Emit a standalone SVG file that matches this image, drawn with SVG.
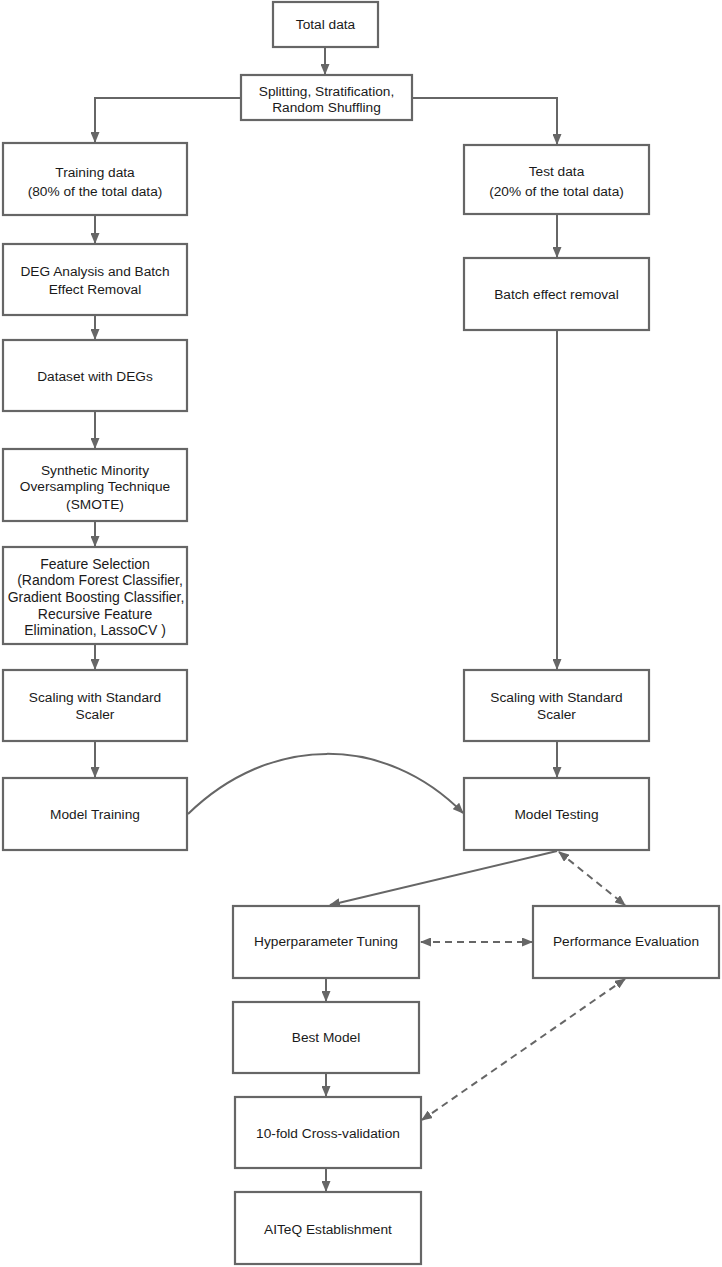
<svg xmlns="http://www.w3.org/2000/svg" width="722" height="1267" viewBox="0 0 722 1267">
<defs>
<marker id="ah" markerUnits="userSpaceOnUse" markerWidth="11" markerHeight="9" refX="10" refY="4.5" orient="auto-start-reverse">
<path d="M0,0 L11,4.5 L0,9 z" fill="#666"/>
</marker>
<style>
.box{fill:#fff;stroke:#666;stroke-width:2.2}
.t{font-family:"Liberation Sans",Arial,sans-serif;font-size:13.7px;fill:#1a1a1a;text-anchor:middle}
.f{font-size:14px}
.c{fill:none;stroke:#666;stroke-width:2}
.d{fill:none;stroke:#666;stroke-width:2;stroke-dasharray:7,5}
</style>
</defs>
<rect width="722" height="1267" fill="#fff"/>
<g id="connectors">
<path class="c" d="M325,47 L325,74" marker-end="url(#ah)"/>
<path class="c" d="M241,98 L95,98 L95,142" marker-end="url(#ah)"/>
<path class="c" d="M412,98 L557,98 L557,144" marker-end="url(#ah)"/>
<path class="c" d="M95,215 L95,243" marker-end="url(#ah)"/>
<path class="c" d="M95,315 L95,339" marker-end="url(#ah)"/>
<path class="c" d="M95,411 L95,448" marker-end="url(#ah)"/>
<path class="c" d="M95,521 L95,546" marker-end="url(#ah)"/>
<path class="c" d="M95,644 L95,669" marker-end="url(#ah)"/>
<path class="c" d="M95,741 L95,777" marker-end="url(#ah)"/>
<path class="c" d="M557,214 L557,257" marker-end="url(#ah)"/>
<path class="c" d="M557,330 L557,669" marker-end="url(#ah)"/>
<path class="c" d="M557,741 L557,777" marker-end="url(#ah)"/>
<path class="c" d="M188,814 C270,734 385,734 463,813" marker-end="url(#ah)"/>
<path class="c" d="M557,851 L330,905" marker-end="url(#ah)" stroke-width="2.4"/>
<path class="d" d="M559,852 L625,905" marker-start="url(#ah)" marker-end="url(#ah)"/>
<path class="d" d="M421,942 L532,942" marker-start="url(#ah)" marker-end="url(#ah)"/>
<path class="d" d="M625,979 L422,1120" marker-start="url(#ah)" marker-end="url(#ah)"/>
<path class="c" d="M326,978 L326,1001" marker-end="url(#ah)"/>
<path class="c" d="M326,1073 L326,1096" marker-end="url(#ah)"/>
<path class="c" d="M326,1168 L326,1191" marker-end="url(#ah)"/>
</g>
<g id="total"><rect class="box" x="273" y="2" width="105" height="45"/><text class="t" x="325.5" y="29">Total data</text></g>
<g id="split"><rect class="box" x="241" y="75" width="171" height="45"/><text class="t" x="326.5" y="95.5">Splitting, Stratification,</text><text class="t" x="326.5" y="112">Random Shuffling</text></g>
<g id="train"><rect class="box" x="3" y="143" width="184" height="72"/><text class="t" x="95" y="176.5">Training data</text><text class="t" x="95" y="195.5">(80% of the total data)</text></g>
<g id="deg"><rect class="box" x="3" y="244" width="184" height="71"/><text class="t" x="95" y="276">DEG Analysis and Batch</text><text class="t" x="95" y="293.5">Effect Removal</text></g>
<g id="dataset"><rect class="box" x="3" y="340" width="184" height="71"/><text class="t" x="95" y="381">Dataset with DEGs</text></g>
<g id="smote"><rect class="box" x="3" y="449" width="184" height="72"/><text class="t" x="95" y="474.5">Synthetic Minority</text><text class="t" x="95" y="491">Oversampling Technique</text><text class="t" x="95" y="508.5">(SMOTE)</text></g>
<g id="feature"><rect class="box" x="3" y="547" width="184" height="97"/><text class="t f" x="95" y="568.5">Feature Selection</text><text class="t f" x="100" y="585">(Random Forest Classifier,</text><text class="t f" x="96" y="601.5">Gradient Boosting Classifier,</text><text class="t f" x="95" y="618.5">Recursive Feature</text><text class="t f" x="95" y="635">Elimination, LassoCV )</text></g>
<g id="scaleL"><rect class="box" x="3" y="670" width="184" height="71"/><text class="t" x="95" y="701.5">Scaling with Standard</text><text class="t" x="95" y="718.5">Scaler</text></g>
<g id="modeltrain"><rect class="box" x="3" y="778" width="184" height="72"/><text class="t" x="95" y="818.5">Model Training</text></g>
<g id="test"><rect class="box" x="464" y="145" width="185" height="69"/><text class="t" x="556.5" y="176">Test data</text><text class="t" x="556.5" y="196">(20% of the total data)</text></g>
<g id="batch"><rect class="box" x="464" y="258" width="185" height="72"/><text class="t" x="556.5" y="298.5">Batch effect removal</text></g>
<g id="scaleR"><rect class="box" x="464" y="670" width="185" height="71"/><text class="t" x="556.5" y="701.5">Scaling with Standard</text><text class="t" x="556.5" y="718.5">Scaler</text></g>
<g id="modeltest"><rect class="box" x="464" y="778" width="185" height="72"/><text class="t" x="556.5" y="818.5">Model Testing</text></g>
<g id="hyper"><rect class="box" x="233" y="906" width="186" height="72"/><text class="t" x="326" y="946">Hyperparameter Tuning</text></g>
<g id="perf"><rect class="box" x="533" y="906" width="186" height="72"/><text class="t" x="626" y="946">Performance Evaluation</text></g>
<g id="best"><rect class="box" x="233" y="1002" width="186" height="71"/><text class="t" x="326" y="1041.5">Best Model</text></g>
<g id="cv"><rect class="box" x="235" y="1097" width="186" height="71"/><text class="t" x="328" y="1138">10-fold Cross-validation</text></g>
<g id="aiteq"><rect class="box" x="235" y="1192" width="186" height="72"/><text class="t" x="328" y="1233.5">AITeQ Establishment</text></g>
</svg>
